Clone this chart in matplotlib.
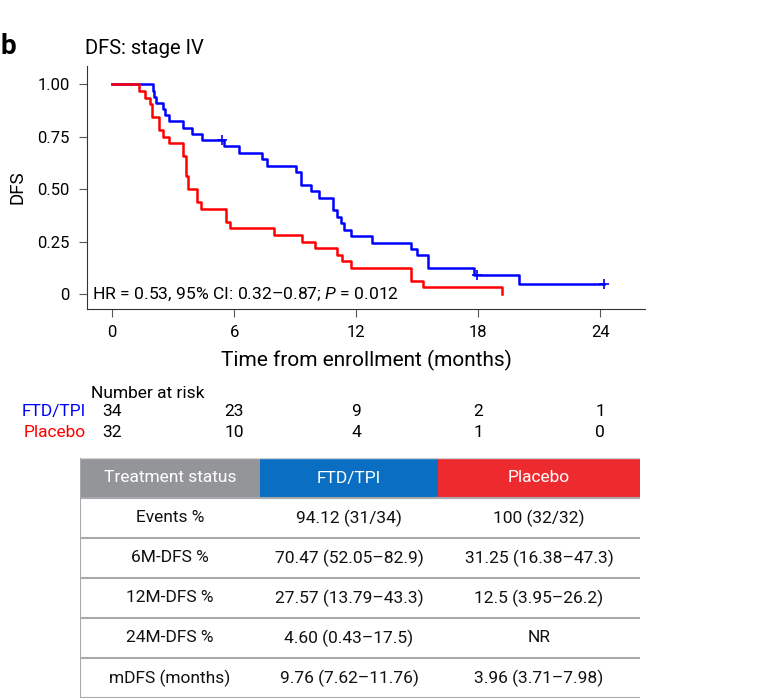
import numpy as np
import matplotlib
matplotlib.use("Agg")
import matplotlib.pyplot as plt
import matplotlib.transforms as mtransforms

plt.rcParams['font.family'] = ['Roboto', 'DejaVu Sans']
plt.rcParams['mathtext.fontset'] = 'custom'
plt.rcParams['mathtext.rm'] = 'Roboto'
plt.rcParams['mathtext.it'] = 'Roboto:italic'

# Datos (tiempo en meses, 1 = evento, 0 = censura)
ftd_time = [2.03, 2.08, 2.14, 2.52, 2.62, 2.81, 3.48, 3.93, 4.42, 5.40,
            5.52, 6.23, 7.36, 7.60, 9.03, 9.27, 9.27, 9.76, 10.18, 10.85,
            10.85, 11.04, 11.28, 11.40, 11.76, 12.80, 14.70, 15.00, 15.55,
            15.55, 17.80, 17.95, 20.00, 24.20]
ftd_event = [1, 1, 1, 1, 1, 1, 1, 1, 1, 0,
             1, 1, 1, 1, 1, 1, 1, 1, 1, 1,
             1, 1, 1, 1, 1, 1, 1, 1, 1,
             1, 1, 0, 1, 0]
placebo_time = [1.35, 1.62, 1.88, 1.96, 1.96, 2.32, 2.32, 2.52, 2.81, 3.48,
                3.48, 3.66, 3.66, 3.66, 3.72, 3.72, 4.17, 4.17, 4.36, 5.60,
                5.60, 5.79, 7.97, 9.32, 9.96, 11.08, 11.30, 11.75, 14.72,
                14.72, 15.27, 19.15]
placebo_event = [1] * 32

risk_times = [0, 6, 12, 18, 24]
ftd_risk = [34, 23, 9, 2, 1]
placebo_risk = [32, 10, 4, 1, 0]

y_ticks = [0, 0.25, 0.50, 0.75, 1.00]
y_ticklabels = ["0", "0.25", "0.50", "0.75", "1.00"]

table_header = ["Treatment status", "FTD/TPI", "Placebo"]
row_labels = ["Events %", "6M-DFS %", "12M-DFS %", "24M-DFS %", "mDFS (months)"]
ftd_col = ["94.12 (31/34)", "70.47 (52.05\u201382.9)", "27.57 (13.79\u201343.3)",
           "4.60 (0.43\u201317.5)", "9.76 (7.62\u201311.76)"]
placebo_col = ["100 (32/32)", "31.25 (16.38\u201347.3)", "12.5 (3.95\u201326.2)",
               "NR", "3.96 (3.71\u20137.98)"]

azul = "#0000ff"
rojo = "#ff0000"


def kaplan_meier(tiempos, eventos):
    t = np.array(tiempos)
    e = np.array(eventos)
    s = 1.0
    xs = [0.0]
    ys = [1.0]
    cens = []
    for u in np.unique(t):
        n_riesgo = (t >= u).sum()
        d = ((t == u) & (e == 1)).sum()
        c = ((t == u) & (e == 0)).sum()
        if d > 0:
            s *= 1 - d / n_riesgo
            xs.append(u)
            ys.append(s)
        if c > 0:
            cens.append((u, s))
    xs.append(t.max())
    ys.append(s)
    return xs, ys, cens


fig = plt.figure(figsize=(7.77, 6.99), dpi=100)
ax = fig.add_axes([87 / 777, 1 - 309 / 699, 558 / 777, 243 / 699])

for tiempos, eventos, color in [(ftd_time, ftd_event, azul),
                                (placebo_time, placebo_event, rojo)]:
    xs, ys, cens = kaplan_meier(tiempos, eventos)
    ax.step(xs, ys, where="post", color=color, lw=1.8)
    if cens:
        cx, cy = zip(*cens)
        ax.plot(cx, cy, "+", color=color, ms=7, mew=1.2)

ax.set_xlim(-1.23, 26.2)
ax.set_ylim(-0.072, 1.088)
ax.set_xticks(risk_times)
ax.set_yticks(y_ticks)
ax.set_yticklabels(y_ticklabels)
ax.spines["top"].set_visible(False)
ax.spines["right"].set_visible(False)
for sp in ["left", "bottom"]:
    ax.spines[sp].set_linewidth(0.8)
    ax.spines[sp].set_color("#333333")
ax.tick_params(axis="both", direction="out", length=5.5, width=0.8,
               color="#555555", labelsize=12)
ax.tick_params(axis="y", pad=7)
ax.tick_params(axis="x", pad=6)
ax.set_xlabel("Time from enrollment (months)", fontsize=15, labelpad=7)
ax.set_ylabel("DFS", fontsize=13.5, labelpad=8)

ax.text(-0.98, 0.0, "HR = 0.53, 95% CI: 0.32\u20130.87; $P$ = 0.012",
        fontsize=12.6, va="center", ha="left")

fig.text(1 / 777, 1 - 46 / 699, "b", fontsize=20, fontweight="bold",
         va="center", ha="left")
fig.text(85 / 777, 1 - 48 / 699, "DFS: stage IV", fontsize=14.5,
         va="center", ha="left")

# Numero en riesgo
trans = mtransforms.blended_transform_factory(ax.transData, fig.transFigure)
fig.text(91 / 777, 1 - 393 / 699, "Number at risk", fontsize=12.5,
         va="center", ha="left")
fig.text(86 / 777, 1 - 412 / 699, "FTD/TPI", fontsize=12.5, color=azul,
         va="center", ha="right")
fig.text(86 / 777, 1 - 432 / 699, "Placebo", fontsize=12.5, color=rojo,
         va="center", ha="right")
for x, a, b in zip(risk_times, ftd_risk, placebo_risk):
    fig.text(x, 1 - 412 / 699, str(a), transform=trans, fontsize=12.5,
             va="center", ha="center")
    fig.text(x, 1 - 432 / 699, str(b), transform=trans, fontsize=12.5,
             va="center", ha="center")

# Tabla
tax = fig.add_axes([80 / 777, 1 - 698 / 699, 560 / 777, 240 / 699])
tax.set_xlim(0, 560)
tax.set_ylim(0, 240)
tax.axis("off")
bordes = [0, 180, 358, 560]
colores_cab = ["#939598", "#0a6fc2", "#ed2b2f"]
for i in range(3):
    tax.add_patch(plt.Rectangle((bordes[i], 201), bordes[i + 1] - bordes[i], 39,
                                color=colores_cab[i], lw=0))
    tax.text((bordes[i] + bordes[i + 1]) / 2, 220, table_header[i],
             color="white", fontsize=12.5, ha="center", va="center")

gris = "#a7a9ac"
for k in range(6):
    tax.plot([0, 560], [200 - 40 * k] * 2, color=gris, lw=1.5,
             solid_capstyle="butt")
tax.plot([0, 560], [240, 240], color="#d0d0d0", lw=1.0)
tax.plot([0, 0], [0, 240], color=gris, lw=1.5)

for k, (lab, v1, v2) in enumerate(zip(row_labels, ftd_col, placebo_col)):
    yc = 180 - 40 * k
    for i, txt in enumerate([lab, v1, v2]):
        tax.text((bordes[i] + bordes[i + 1]) / 2, yc, txt, fontsize=12.5,
                 ha="center", va="center", color="#111111")

fig.savefig("out.png", dpi=100)
